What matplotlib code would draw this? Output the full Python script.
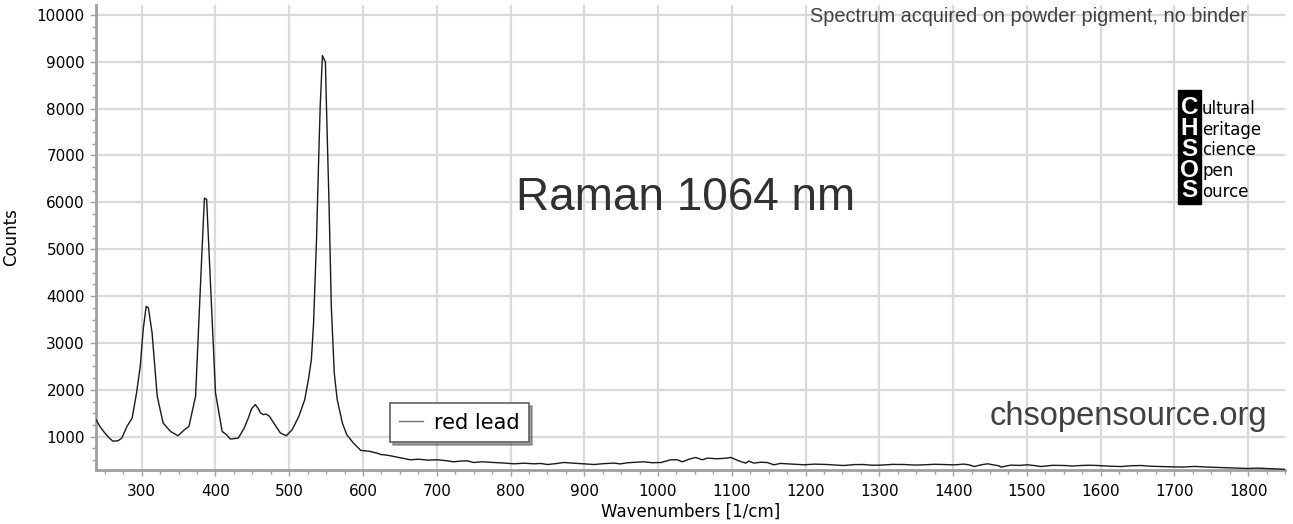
import matplotlib.pyplot as plt
from matplotlib.ticker import MultipleLocator
from matplotlib.patches import Rectangle

# Raman spectrum of red lead
wavenumbers = [238, 239, 244, 250, 256, 261, 268, 273, 280, 287, 293, 298, 302, 306, 309,
               314, 321, 329, 339, 349, 357, 364, 373, 377, 381, 385, 388, 393, 400, 409,
               415, 420, 426, 431, 439, 445, 449, 454, 458, 461, 465, 468, 473, 479, 488,
               496, 504, 513, 521, 526, 530, 533, 537, 540, 542, 545, 549, 551, 554, 557,
               561, 565, 572, 578, 587, 597, 603, 610, 615, 619, 624, 628, 635, 642, 652,
               664, 676, 688, 701, 712, 723, 732, 741, 750, 762, 777, 790, 805, 818, 832,
               841, 850, 861, 872, 884, 895, 905, 913, 926, 940, 949, 958, 970, 981, 992,
               1004, 1011, 1017, 1026, 1033, 1042, 1051, 1060, 1067, 1074, 1080, 1090, 1099,
               1108, 1114, 1119, 1123, 1130, 1139, 1148, 1157, 1166, 1175, 1187, 1198, 1212,
               1230, 1241, 1252, 1266, 1279, 1290, 1302, 1318, 1334, 1348, 1361, 1375, 1388,
               1402, 1415, 1422, 1429, 1438, 1447, 1456, 1462, 1465, 1478, 1490, 1501, 1510,
               1519, 1535, 1551, 1562, 1573, 1585, 1596, 1612, 1628, 1641, 1655, 1668, 1682,
               1696, 1710, 1728, 1745, 1759, 1772, 1786, 1800, 1812, 1823, 1835, 1846, 1850]
counts = [1360, 1340, 1200, 1079, 970, 905, 914, 972, 1220, 1400, 1935, 2504, 3290, 3780, 3750,
          3219, 1863, 1293, 1113, 1021, 1135, 1220, 1863, 3290, 4717, 6090, 6060, 4360, 1935, 1113,
          1043, 951, 960, 972, 1186, 1420, 1600, 1685, 1600, 1510, 1470, 1486, 1440, 1293, 1079,
          1021, 1150, 1434, 1792, 2220, 2648, 3433, 5216, 6998, 8068, 9130, 8990, 7713, 5928, 3788,
          2363, 1792, 1293, 1043, 865, 707, 700, 685, 664, 651, 620, 615, 600, 578, 545,
          508, 520, 500, 508, 490, 465, 480, 486, 450, 465, 450, 440, 422, 435, 422,
          430, 407, 425, 450, 438, 429, 415, 407, 425, 437, 420, 444, 455, 465, 445,
          450, 480, 508, 508, 465, 520, 557, 508, 544, 535, 529, 540, 557,
          493, 460, 437, 480, 437, 455, 450, 401, 430, 422, 410, 401, 415,
          407, 395, 386, 405, 407, 392, 394, 410, 407, 395, 401, 412, 407,
          400, 416, 398, 364, 401, 422, 395, 380, 352, 394, 388, 401, 385,
          364, 390, 386, 375, 386, 392, 386, 372, 364, 380, 386, 370, 364,
          360, 352, 366, 352, 345, 337, 330, 322, 330, 322, 315, 309, 305]

x_ticks = list(range(300, 1801, 100))
y_ticks = list(range(1000, 10001, 1000))
logo_letters = ["C", "H", "S", "O", "S"]
logo_words = ["ultural", "eritage", "cience", "pen", "ource"]

W, H = 1293, 524


def fx(px):
    return px / W


def fy(py):
    return 1 - py / H


fig = plt.figure(figsize=(W / 100, H / 100), dpi=100)
ax = fig.add_axes([fx(96), fy(470), fx(1285) - fx(96), fy(5) - fy(470)])

ax.plot(wavenumbers, counts, color="#1a1a1a", lw=1.0, label="red lead", zorder=3)

ax.set_xlim(238, 1850)
ax.set_ylim(290, 10210)
ax.set_xticks(x_ticks)
ax.set_yticks(y_ticks)
ax.xaxis.set_minor_locator(MultipleLocator(25))
ax.yaxis.set_minor_locator(MultipleLocator(250))
ax.grid(True, which="major", color="#dadada", lw=1.6, zorder=0)
ax.set_axisbelow(True)

for side in ["top", "right"]:
    ax.spines[side].set_visible(False)
for side in ["left", "bottom"]:
    ax.spines[side].set_color("#a0a0a0")
    ax.spines[side].set_linewidth(2)

ax.tick_params(which="major", length=4, width=1, color="#a0a0a0", labelsize=11, pad=4)
ax.tick_params(which="minor", length=3, width=1, color="#a0a0a0")
ax.tick_params(axis="x", which="major", pad=6)

ax.set_xlabel("Wavenumbers [1/cm]", fontsize=12, labelpad=3)
ax.set_ylabel("Counts", fontsize=12, labelpad=12)

leg = ax.legend(loc="lower left", bbox_to_anchor=(fx(390), fy(442)), bbox_transform=fig.transFigure,
                borderaxespad=0, fancybox=False, shadow=True, fontsize=15,
                handlelength=1.15, handletextpad=0.5, borderpad=0.45, framealpha=1)
leg.get_frame().set_edgecolor("#606060")
leg.get_frame().set_linewidth(1.2)
leg.get_lines()[0].set_color("#707070")

fig.text(fx(1247), fy(16), "Spectrum acquired on powder pigment, no binder", ha="right", va="center",
         fontsize=14.3, color="#404040", family="Liberation Sans")
fig.text(fx(686), fy(198), "Raman 1064 nm", ha="center", va="center",
         fontsize=33, color="#303030", family="Liberation Sans")
fig.text(fx(1128), fy(417), "chsopensource.org", ha="center", va="center",
         fontsize=23.5, color="#404040", family="Liberation Sans")

# CHSOS logo
fig.patches.append(Rectangle((fx(1178), fy(204)), fx(1201) - fx(1178), fy(90) - fy(204),
                             transform=fig.transFigure, color="black", zorder=5))
for i, (letter, word) in enumerate(zip(logo_letters, logo_words)):
    yc = 108 + i * 20.7
    fig.text(fx(1189.5), fy(yc), letter, ha="center", va="center", fontsize=17.5,
             fontweight="bold", color="white", family="Liberation Sans", zorder=6)
    fig.text(fx(1202), fy(yc + 1), word, ha="left", va="center", fontsize=12,
             color="black", family="DejaVu Sans", zorder=6)

fig.savefig("out.png", dpi=100)
